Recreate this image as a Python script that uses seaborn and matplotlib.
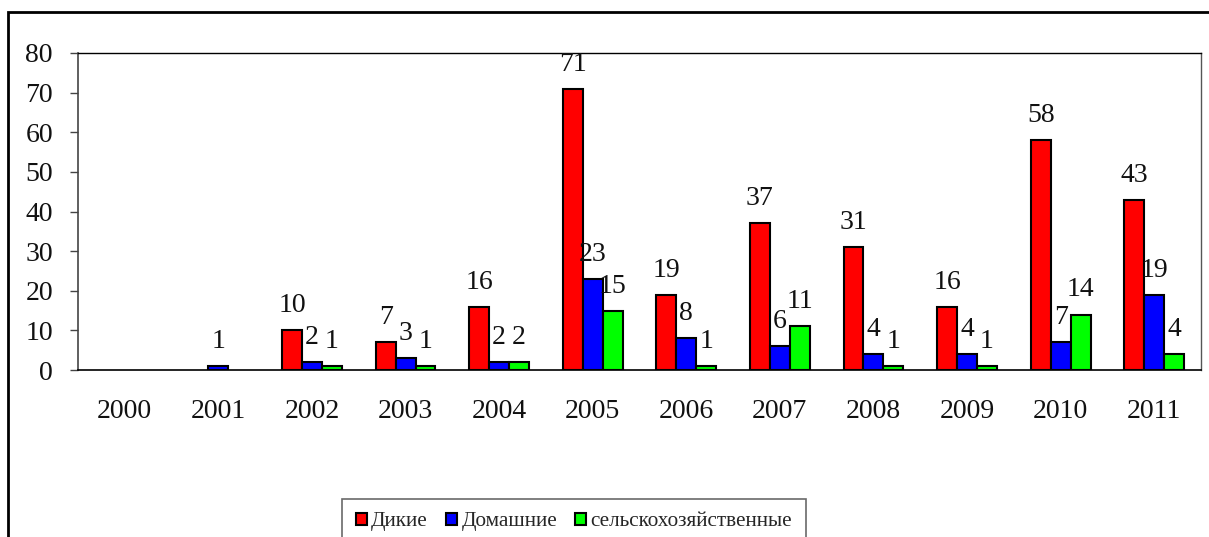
import numpy as np
import matplotlib.pyplot as plt
import matplotlib.patches as mpatches
import pandas as pd
import seaborn as sns

YEARS = ["2000", "2001", "2002", "2003", "2004", "2005",
         "2006", "2007", "2008", "2009", "2010", "2011"]
SERIES = ["Дикие", "Домашние", "сельскохозяйственные"]
WILD = [0, 0, 10, 7, 16, 71, 19, 37, 31, 16, 58, 43]
DOMESTIC = [0, 1, 2, 3, 2, 23, 8, 6, 4, 4, 7, 19]
FARM = [0, 0, 1, 1, 2, 15, 1, 11, 1, 1, 14, 4]
COLORS = ["#ff0000", "#0000ff", "#00ff00"]

df = pd.DataFrame({
    "year": YEARS * 3,
    "series": np.repeat(SERIES, len(YEARS)),
    "value": WILD + DOMESTIC + FARM,
})

sns.set_theme(style="white")
plt.rcParams["font.family"] = ["Liberation Serif", "DejaVu Serif"]
FS = 20

fig = plt.figure(figsize=(12.09, 5.37), dpi=100)
ax = fig.add_axes([78 / 1209, 1 - 370 / 537, (1201 - 78) / 1209, (370 - 53) / 537])

sns.barplot(
    data=df, x="year", y="value", hue="series",
    hue_order=SERIES, order=YEARS, palette=COLORS,
    width=0.64, edgecolor="black", linewidth=1.5,
    saturation=1, legend=False, ax=ax,
)

# value labels (zeros are left out, like the original)
for container, vals in zip(ax.containers, [WILD, DOMESTIC, FARM]):
    for bar, v in zip(container, vals):
        if v <= 0:
            bar.set_visible(False)
            continue
        ax.annotate(str(v), (bar.get_x() + bar.get_width() / 2, v),
                    xytext=(0, 13), textcoords="offset points",
                    ha="center", va="baseline", fontsize=FS, color="#111111",
                    annotation_clip=False)

ax.set_ylim(0, 80)
ax.set_xlim(-0.5, len(YEARS) - 0.5)
ax.set_yticks(range(0, 81, 10))
ax.set_xlabel("")
ax.set_ylabel("")

# year ticks: labels at centres, marks at the category borders
ax.set_xticks(range(len(YEARS)))
ax.set_xticklabels(YEARS)
ax.set_xticks(np.arange(-0.5, len(YEARS), 1.0), minor=True)
ax.tick_params(axis="x", which="major", length=0, pad=21, labelsize=FS)
ax.tick_params(axis="x", which="minor", length=6, width=1, color="#444444", direction="out")
ax.tick_params(axis="y", length=6, width=1, color="#444444", direction="out",
               left=True, pad=12, labelsize=FS)
for lab in ax.get_xticklabels() + ax.get_yticklabels():
    lab.set_color("#111111")

for side in ["left", "bottom"]:
    ax.spines[side].set_color("#444444")
    ax.spines[side].set_linewidth(1.2)
ax.spines["bottom"].set_color("black")
ax.spines["top"].set_color("black")
ax.spines["top"].set_linewidth(1.0)
ax.spines["right"].set_color("#555555")
ax.spines["right"].set_linewidth(1.0)

# outer chart frame (cut off at right and bottom)
fig.patches.append(mpatches.Rectangle(
    (8 / 1209, -0.05), 1.2, 1 - 12 / 537 + 0.05,
    transform=fig.transFigure, fill=False, edgecolor="black", linewidth=2))

handles = [mpatches.Patch(facecolor=c, edgecolor="black", linewidth=1.5) for c in COLORS]
leg = fig.legend(handles, SERIES, loc="upper center",
                 bbox_to_anchor=(574 / 1209, 1 - 488 / 537),
                 ncol=3, frameon=True, fontsize=15.3, fancybox=False,
                 handlelength=0.52, handleheight=0.52, handletextpad=0.2,
                 columnspacing=0.85, borderpad=0.65)
leg.get_frame().set_edgecolor("#444444")
leg.get_frame().set_linewidth(1.2)

fig.savefig("out.png", dpi=100)
